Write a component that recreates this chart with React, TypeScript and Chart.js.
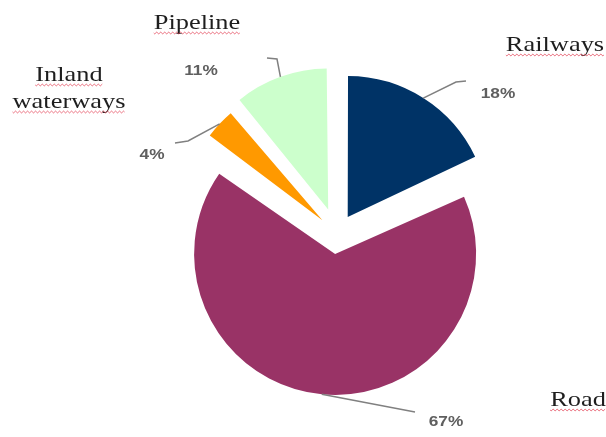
import React, { useEffect, useRef } from "react";
import { Chart, registerables } from "chart.js";

Chart.register(...registerables);

// ---- data ----
const categories = ["Railways", "Road", "Inland waterways", "Pipeline"];
const shares = [18, 67, 4, 11];
const sliceColors = ["#003366", "#993366", "#FF9900", "#CCFFCC"];
// Chart.js arc offset (slice is translated by offset / 4 px)
const explodeOffsets = [80, 80, 80, 104];

// ---- label layout (annotation positions, not data) ----
const nameLines = [["Railways"], ["Road"], ["Inland", "waterways"], ["Pipeline"]];
const nameCenters = [
  { x: 555, y: [51] },
  { x: 578, y: [406] },
  { x: 69, y: [81, 108] },
  { x: 197, y: [29] },
];
const pctCenters = [
  { x: 498, y: 94 },
  { x: 446, y: 422 },
  { x: 152, y: 155 },
  { x: 201, y: 71 },
];
const leaderBends = [
  [[456, 82], [466, 81]],
  [[415, 412]],
  [[188, 141], [175, 143]],
  [[277, 59], [267, 58]],
];

const NAME_FONT = '22px "Liberation Serif", "Times New Roman", serif';
const PCT_FONT = 'bold 15px "Liberation Sans", Arial, sans-serif';
const NAME_SCALE = 1.2;
const PCT_SCALE = 1.15;

function drawWavy(ctx: CanvasRenderingContext2D, x0: number, x1: number, y: number) {
  ctx.save();
  ctx.strokeStyle = "rgba(225,60,80,0.75)";
  ctx.lineWidth = 1;
  ctx.beginPath();
  for (let x = x0; x <= x1; x += 1) {
    const yy = y + Math.sin(((x - x0) / 4) * Math.PI * 2) * 0.9;
    if (x === x0) ctx.moveTo(x, yy);
    else ctx.lineTo(x, yy);
  }
  ctx.stroke();
  ctx.restore();
}

const explodePlugin = {
  id: "explodeLabels",
  beforeDatasetsDraw(chart: any) {
    const meta = chart.getDatasetMeta(0);
    const R = meta.controller.outerRadius;
    meta.data.forEach((el: any) => {
      const off = ((el.options && el.options.offset) || 0) / 4;
      const fix = 1 - Math.sin(Math.min(Math.PI, el.circumference || 0));
      el.outerRadius = R - off * fix;
    });
  },
  afterDraw(chart: any) {
    const ctx: CanvasRenderingContext2D = chart.ctx;
    const meta = chart.getDatasetMeta(0);
    const R = meta.controller.outerRadius;
    const total = shares.reduce((a, b) => a + b, 0);
    meta.data.forEach((el: any, i: number) => {
      const mid = (el.startAngle + el.endAngle) / 2;
      const t = ((el.options && el.options.offset) || 0) / 4;
      const sx = el.x + Math.cos(mid) * (t + R);
      const sy = el.y + Math.sin(mid) * (t + R);
      // leader line
      ctx.save();
      ctx.strokeStyle = "#808080";
      ctx.lineWidth = 1.5;
      ctx.beginPath();
      ctx.moveTo(sx, sy);
      leaderBends[i].forEach((p) => ctx.lineTo(p[0], p[1]));
      ctx.stroke();
      ctx.restore();
      // percentage
      const pct = Math.round((shares[i] / total) * 100) + "%";
      ctx.save();
      ctx.font = PCT_FONT;
      ctx.fillStyle = "#5f5f5f";
      ctx.textAlign = "center";
      ctx.textBaseline = "middle";
      ctx.translate(pctCenters[i].x, pctCenters[i].y);
      ctx.scale(PCT_SCALE, 1);
      ctx.fillText(pct, 0, 0);
      ctx.restore();
      // category names
      nameLines[i].forEach((line, j) => {
        const cx = nameCenters[i].x;
        const by = nameCenters[i].y[j];
        ctx.save();
        ctx.font = NAME_FONT;
        ctx.fillStyle = "#1e1e1e";
        ctx.textAlign = "center";
        ctx.textBaseline = "alphabetic";
        const w = ctx.measureText(line).width * NAME_SCALE;
        ctx.translate(cx, by);
        ctx.scale(NAME_SCALE, 1);
        ctx.fillText(line, 0, 0);
        ctx.restore();
        drawWavy(ctx, cx - w / 2, cx + w / 2, by + 4);
      });
    });
  },
};

export default function App() {
  const ref = useRef<HTMLCanvasElement | null>(null);
  useEffect(() => {
    if (!ref.current) return;
    const chart = new Chart(ref.current, {
      type: "pie",
      data: {
        labels: categories,
        datasets: [
          {
            data: shares,
            backgroundColor: sliceColors,
            borderWidth: 0,
            offset: explodeOffsets,
          } as any,
        ],
      },
      options: {
        responsive: false,
        animation: false,
        radius: 141,
        layout: { padding: { left: 68, top: 31, right: 0, bottom: 0 } },
        plugins: { legend: { display: false }, tooltip: { enabled: false } },
        events: [],
      } as any,
      plugins: [explodePlugin as any],
    });
    return () => chart.destroy();
  }, []);
  return (
    <div style={{ position: "fixed", left: 0, top: 0, width: 606, height: 437, background: "#fff" }}>
      <canvas ref={ref} width={606} height={437} style={{ display: "block" }} />
    </div>
  );
}
